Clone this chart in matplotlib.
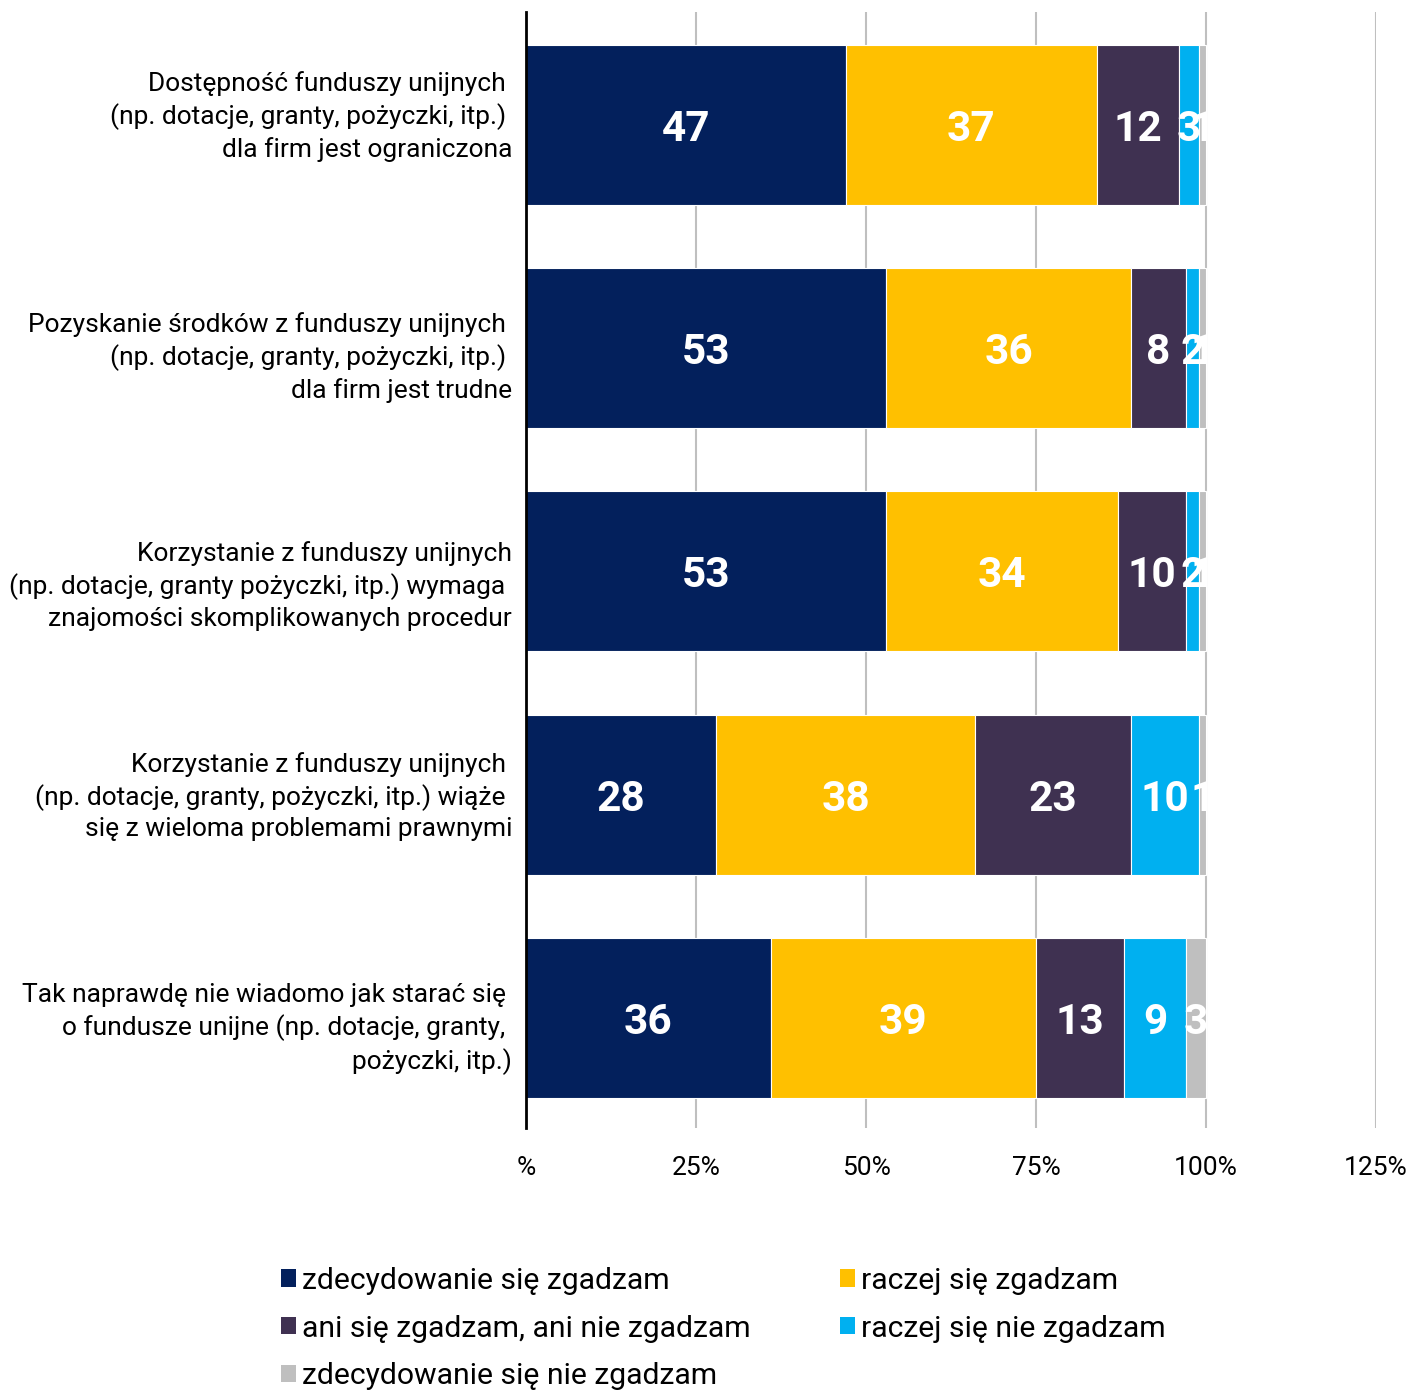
import numpy as np
import matplotlib
matplotlib.use("Agg")
from matplotlib import pyplot as plt
from matplotlib.patches import Rectangle, Patch
from matplotlib.transforms import ScaledTranslation

plt.rcParams['font.family'] = ['Roboto', 'DejaVu Sans']

categories = [
    "Dostępność funduszy unijnych \n(np. dotacje, granty, pożyczki, itp.) \ndla firm jest ograniczona",
    "Pozyskanie środków z funduszy unijnych \n(np. dotacje, granty, pożyczki, itp.) \ndla firm jest trudne",
    "Korzystanie z funduszy unijnych\n(np. dotacje, granty pożyczki, itp.) wymaga \nznajomości skomplikowanych procedur",
    "Korzystanie z funduszy unijnych \n(np. dotacje, granty, pożyczki, itp.) wiąże \nsię z wieloma problemami prawnymi",
    "Tak naprawdę nie wiadomo jak starać się \no fundusze unijne (np. dotacje, granty, \npożyczki, itp.)",
]
series_names = [
    "zdecydowanie się zgadzam",
    "raczej się zgadzam",
    "ani się zgadzam, ani nie zgadzam",
    "raczej się nie zgadzam",
    "zdecydowanie się nie zgadzam",
]
strongly_agree = [47, 53, 53, 28, 36]
rather_agree = [37, 36, 34, 38, 39]
neutral = [12, 8, 10, 23, 13]
rather_disagree = [3, 2, 2, 10, 9]
strongly_disagree = [1, 1, 1, 1, 3]
xticks = [0, 25, 50, 75, 100, 125]
xtick_labels = ["%", "25%", "50%", "75%", "100%", "125%"]
colors = ["#03205C", "#FFC000", "#3F3151", "#00B0F0", "#BFBFBF"]

series = [strongly_agree, rather_agree, neutral, rather_disagree, strongly_disagree]

fig = plt.figure(figsize=(14.13, 13.91), dpi=100)
ax = fig.add_axes([0.3723, 0.1891, 0.9738 - 0.3723, 0.9914 - 0.1891])

y = np.arange(len(categories))
left = np.zeros(len(categories))
# segment labels are cut off at the 100% line, like in the original
clip = Rectangle((0, -1), 100, 10, transform=ax.transData)
for vals, col in zip(series, colors):
    vals = np.array(vals)
    ax.barh(y, vals, left=left, height=0.716, color=col, edgecolor="white",
            linewidth=0.8, zorder=2)
    for yi, l, v in zip(y, left, vals):
        t = ax.text(l + v / 2, yi, str(v), ha="center", va="center_baseline",
                    color="white", fontsize=30.5, fontweight="bold", zorder=3,
                    clip_on=True)
        t.set_clip_path(clip)
    left = left + vals

ax.set_xlim(0, 125)
ax.set_ylim(4.492, -0.504)
ax.set_xticks(xticks)
ax.set_xticklabels(xtick_labels, fontsize=19)
ax.set_yticks(y)
ax.set_yticklabels(categories, fontsize=19, linespacing=1.34)
ax.tick_params(axis="both", length=0)
ax.tick_params(axis="x", pad=20)
ax.tick_params(axis="y", pad=10)

# small vertical nudges of the category labels (pixels, up is positive)
label_shift = [14, -4, -9, 4, -4]
for lab, dy in zip(ax.get_yticklabels(), label_shift):
    lab.set_transform(lab.get_transform() +
                      ScaledTranslation(0, dy / 100, fig.dpi_scale_trans))

ax.xaxis.grid(True, color="#BFBFBF", linewidth=1.5, zorder=0)
ax.set_axisbelow(True)
for s in ["top", "right", "bottom"]:
    ax.spines[s].set_visible(False)
ax.spines["left"].set_linewidth(2)
ax.spines["left"].set_color("black")
ax.spines["left"].set_zorder(4)

handles = [Patch(facecolor=c, edgecolor="none") for c in colors]
order = [0, 2, 4, 1, 3]
fig.legend([handles[i] for i in order], [series_names[i] for i in order],
           ncol=2, loc="upper left", bbox_to_anchor=(0.199, 0.0894),
           frameon=False, fontsize=21.7, handlelength=0.5, handleheight=0.5,
           handletextpad=0.2, columnspacing=2.95, labelspacing=0.66,
           borderaxespad=0, borderpad=0)

fig.savefig("out.png", dpi=100)
